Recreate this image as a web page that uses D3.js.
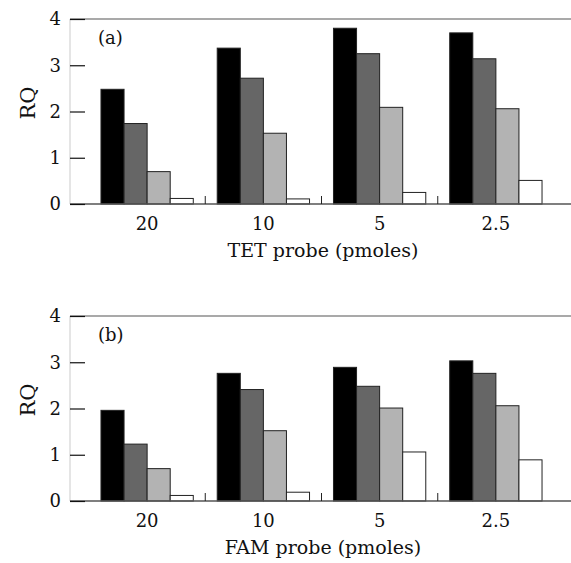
<!DOCTYPE html>
<html>
<head>
<meta charset="utf-8">
<script src="https://cdn.jsdelivr.net/npm/d3@7"></script>
<style>
  body { margin: 0; background: #fff; }
  svg text { font-family: "DejaVu Serif", serif; fill: #111; }
</style>
</head>
<body>
<div id="chart"></div>
<script>
// probe amounts (pmoles) on the x axis
var doses = ["20", "10", "5", "2.5"]
var yTicks = [0, 1, 2, 3, 4]

// RQ values, one row per dose, 4 bars each (black, dark gray, light gray, white)
var tetRQ = [
    [2.48, 1.74, 0.70, 0.12],
    [3.37, 2.72, 1.53, 0.11],
    [3.80, 3.25, 2.09, 0.25],
    [3.70, 3.14, 2.06, 0.51]
]
var famRQ = [
    [1.96, 1.23, 0.70, 0.12],
    [2.76, 2.41, 1.52, 0.19],
    [2.89, 2.48, 2.01, 1.06],
    [3.03, 2.76, 2.06, 0.89]
]

var barColors = ["#000000", "#666666", "#b3b3b3", "#ffffff"]

var width = 571, height = 563
var left = 70, right = 571
var plotH = 185

var svg = d3.select("#chart").append("svg")
    .attr("width", width)
    .attr("height", height)

var x = d3.scaleBand()
    .domain(doses)
    .range([89, 554])
    .paddingInner(0.206)
    .paddingOuter(0.103)

var xSub = d3.scaleBand()
    .domain(d3.range(4))
    .range([0, x.bandwidth()])

var y = d3.scaleLinear().domain([0, 4]).range([plotH, 0])

function drawPanel(top, data, tag, title) {
    var g = svg.append("g").attr("transform", "translate(0," + top + ")")

    // frame lines
    g.append("line").attr("x1", left).attr("x2", right).attr("y1", 0).attr("y2", 0)
        .attr("stroke", "#555").attr("stroke-width", 1.2)
    g.append("line").attr("x1", left).attr("x2", left).attr("y1", 0).attr("y2", plotH)
        .attr("stroke", "#aaa").attr("stroke-width", 0.6)

    // bars
    var groups = g.selectAll("g.dose")
        .data(data)
        .enter()
        .append("g")
        .attr("class", "dose")
        .attr("transform", function (d, i) { return "translate(" + x(doses[i]) + ",0)" })

    groups.selectAll("rect")
        .data(function (d) { return d })
        .enter()
        .append("rect")
        .attr("x", function (d, i) { return xSub(i) })
        .attr("y", function (d) { return y(d) })
        .attr("width", xSub.bandwidth())
        .attr("height", function (d) { return plotH - y(d) })
        .attr("fill", function (d, i) { return barColors[i] })
        .attr("stroke", "#222")
        .attr("stroke-width", 1)

    // baseline
    g.append("line").attr("x1", left).attr("x2", right).attr("y1", plotH).attr("y2", plotH)
        .attr("stroke", "#555").attr("stroke-width", 1.5)

    // y axis: inward ticks, labels on the left
    var yAxis = d3.axisLeft(y).tickValues(yTicks).tickFormat(d3.format("d"))
        .tickSize(-15).tickPadding(9)
    var ya = g.append("g").attr("transform", "translate(" + left + ",0)").call(yAxis)
    ya.select(".domain").remove()
    ya.selectAll(".tick line").attr("stroke", "#111").attr("stroke-width", 1.2)
    ya.selectAll(".tick text").attr("font-size", 18).attr("font-family", "DejaVu Serif, serif")
        .attr("fill", "#111")

    // x axis: category labels with small separator ticks between groups
    var gap = x.step() - x.bandwidth()
    g.selectAll("line.sep")
        .data(doses.slice(1))
        .enter()
        .append("line")
        .attr("class", "sep")
        .attr("x1", function (d) { return x(d) - gap / 2 })
        .attr("x2", function (d) { return x(d) - gap / 2 })
        .attr("y1", plotH)
        .attr("y2", plotH - 8)
        .attr("stroke", "#222")

    g.selectAll("text.cat")
        .data(doses)
        .enter()
        .append("text")
        .attr("class", "cat")
        .attr("x", function (d) { return x(d) + x.bandwidth() / 2 })
        .attr("y", plotH + 26)
        .attr("text-anchor", "middle")
        .attr("font-size", 18)
        .text(function (d) { return d })

    g.append("text")
        .attr("x", 323)
        .attr("y", plotH + 53)
        .attr("text-anchor", "middle")
        .attr("font-size", 19)
        .text(title)

    g.append("text")
        .attr("transform", "translate(35," + 84 + ") rotate(-90)")
        .attr("text-anchor", "middle")
        .attr("font-size", 21)
        .text("RQ")

    g.append("text")
        .attr("x", 98)
        .attr("y", 25)
        .attr("font-size", 18)
        .text(tag)
}

drawPanel(19, tetRQ, "(a)", "TET probe (pmoles)")
drawPanel(316, famRQ, "(b)", "FAM probe (pmoles)")
</script>
</body>
</html>
